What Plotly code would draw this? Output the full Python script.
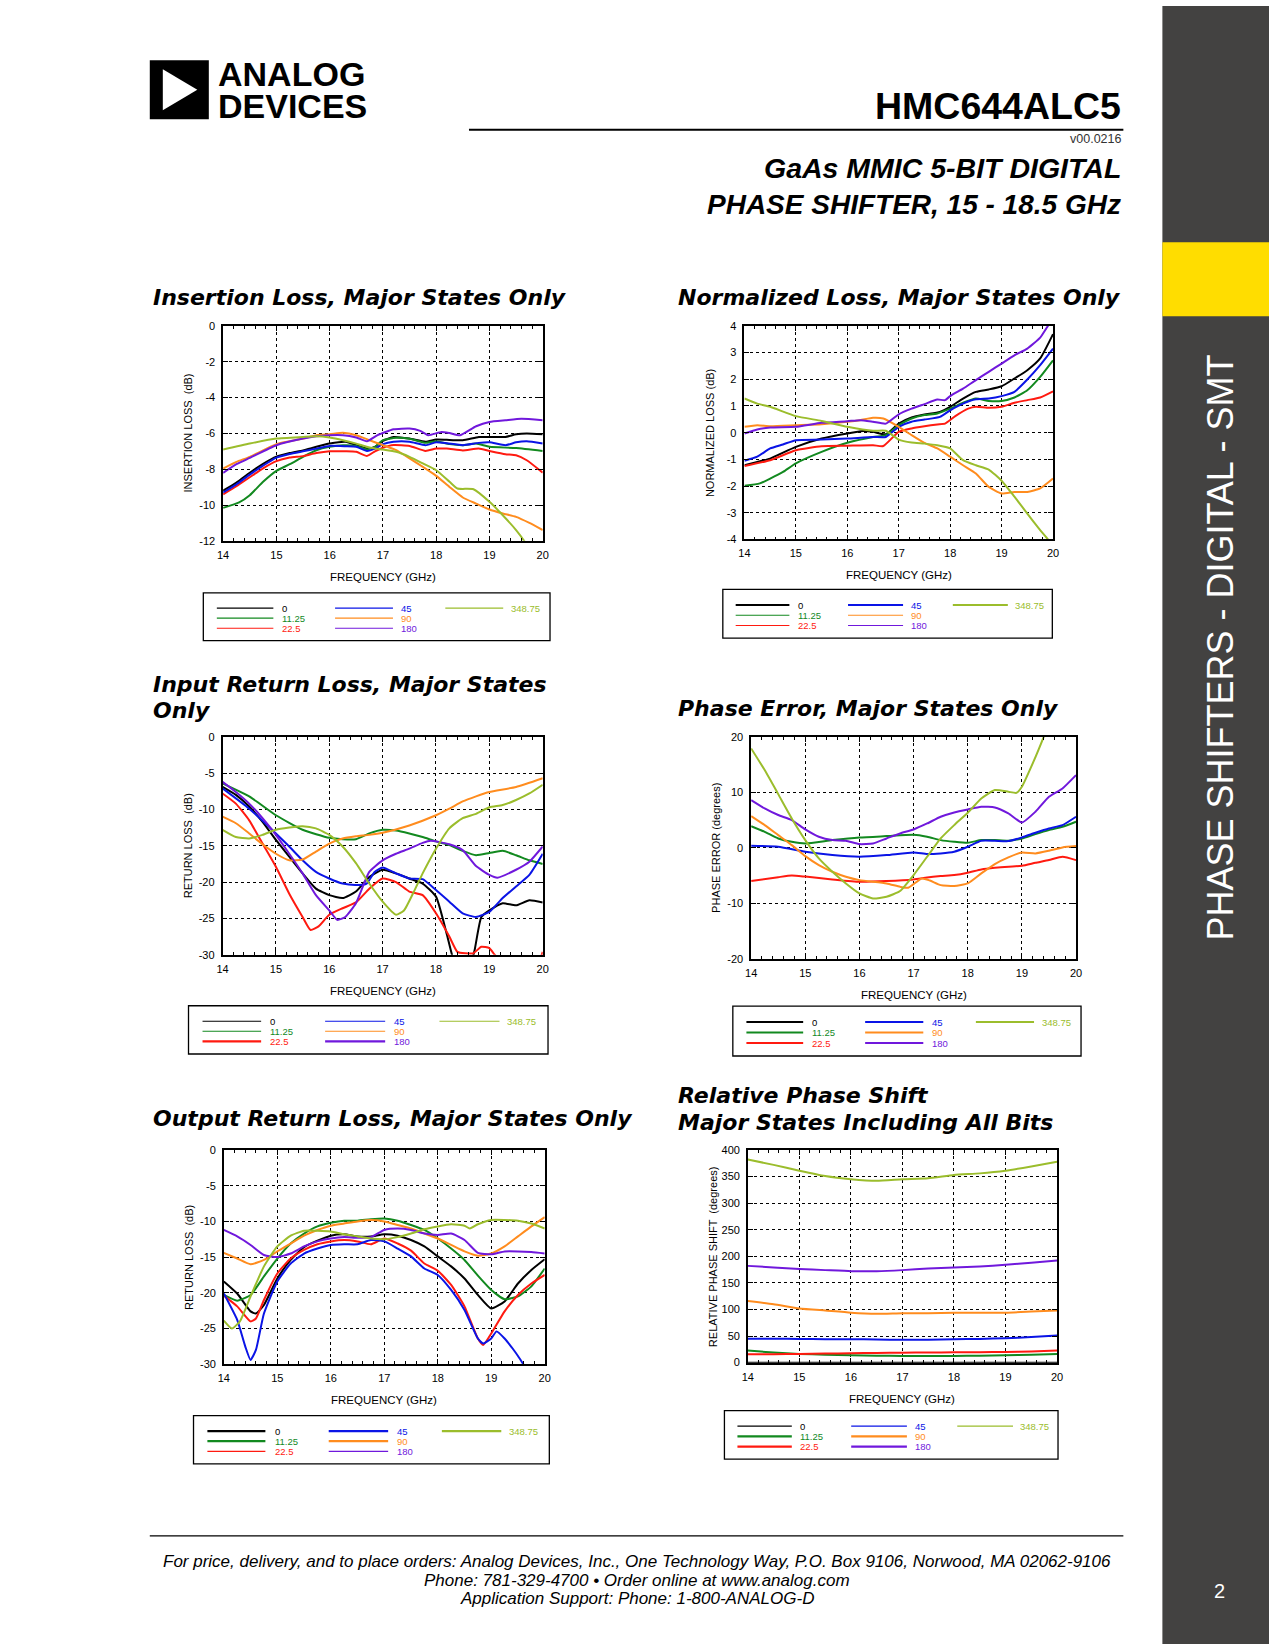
import plotly.graph_objects as go

W, H = 1275, 1650
# the photographed page shows the figure slightly inset (about 6 px) and scaled by about 0.99;
# positions below are given in the reference's pixel frame and mapped through that inset
SX, OX = 0.99, 6.3
SY, OY = 0.993, 5.7
def fx(x): return (x - OX) / SX / W
def fy(y): return 1 - (y - OY) / SY / H

STATES = ["0", "11.25", "22.5", "45", "90", "180", "348.75"]
COLORS = {"0": "#000000", "11.25": "#12891f", "22.5": "#ff1a10", "45": "#0a14e6",
          "90": "#ff8c1e", "180": "#7018dc", "348.75": "#9bbd2c"}

Q = [14 + 0.25 * k for k in range(25)]
H13 = [14 + 0.5 * k for k in range(13)]

# ---------------- Insertion loss (dB) ----------------
IL_X_A = [14, 14.25, 14.5, 14.75, 15, 15.25, 15.5, 15.75, 16, 16.3, 16.5, 16.7, 16.85, 17, 17.2, 17.5, 17.8, 18, 18.2, 18.5, 18.8, 19, 19.3, 19.5, 19.7, 20]
IL_0 = [-9.2, -8.75, -8.2, -7.7, -7.3, -7.1, -6.95, -6.75, -6.57, -6.47, -6.66, -6.85, -6.75, -6.42, -6.2, -6.29, -6.47, -6.34, -6.36, -6.38, -6.2, -6.2, -6.2, -6.05, -6.0, -6.05]
IL_45 = [-9.3, -8.85, -8.3, -7.8, -7.35, -7.15, -7.0, -6.85, -6.7, -6.72, -6.75, -6.98, -6.85, -6.6, -6.47, -6.47, -6.66, -6.5, -6.55, -6.66, -6.53, -6.5, -6.66, -6.5, -6.44, -6.57]
IL_22 = [-9.4, -8.95, -8.45, -7.95, -7.55, -7.35, -7.27, -7.1, -7.0, -7.0, -7.03, -7.26, -7.0, -6.8, -6.65, -6.7, -6.98, -6.85, -6.85, -6.95, -6.85, -6.98, -7.16, -7.22, -7.5, -8.19]
IL_X_11 = [14, 14.3, 14.5, 14.75, 15, 15.25, 15.5, 15.75, 16, 16.25, 16.5, 16.7, 16.85, 17, 17.25, 17.5, 17.8, 18, 18.25, 18.5, 18.75, 19, 19.5, 20]
IL_11 = [-10.16, -9.85, -9.45, -8.7, -8.09, -7.72, -7.31, -6.94, -6.75, -6.66, -6.7, -6.9, -6.75, -6.38, -6.25, -6.3, -6.53, -6.44, -6.6, -6.66, -6.57, -6.75, -6.82, -6.98]
IL_X_180 = [14, 14.25, 14.5, 15, 15.5, 15.75, 16, 16.25, 16.5, 16.7, 16.9, 17.2, 17.5, 17.7, 17.85, 18.1, 18.25, 18.45, 18.75, 19, 19.3, 19.6, 20]
IL_180 = [-8.2, -7.72, -7.37, -6.66, -6.29, -6.16, -6.1, -6.1, -6.23, -6.44, -6.1, -5.77, -5.73, -5.86, -6.1, -5.92, -5.98, -6.1, -5.6, -5.36, -5.27, -5.19, -5.27]
IL_X_90 = [14, 14.25, 14.5, 15, 15.5, 15.75, 16, 16.25, 16.5, 16.75, 17, 17.25, 17.5, 17.75, 18, 18.25, 18.5, 18.75, 19, 19.25, 19.5, 19.75, 20]
IL_90 = [-7.96, -7.59, -7.31, -6.6, -6.29, -6.1, -6.05, -5.97, -6.1, -6.38, -6.66, -6.94, -7.4, -7.87, -8.37, -8.99, -9.58, -9.92, -10.25, -10.47, -10.66, -11.0, -11.4]
IL_X_348 = [14, 14.5, 15, 15.5, 15.75, 16, 16.25, 16.5, 16.75, 17, 17.25, 17.5, 17.75, 18, 18.25, 18.4, 18.7, 19, 19.25, 19.5, 19.65, 19.8]
IL_348 = [-6.9, -6.57, -6.29, -6.2, -6.16, -6.23, -6.38, -6.57, -6.79, -6.9, -7.03, -7.31, -7.68, -8.06, -8.7, -9.08, -9.12, -9.82, -10.57, -11.4, -12.0, -12.8]

# ---------------- Normalized loss (dB) ----------------
NL_X_0 = [14, 14.25, 14.5, 15, 15.5, 16, 16.3, 16.5, 16.75, 17, 17.25, 17.5, 17.8, 18, 18.25, 18.5, 18.75, 19, 19.25, 19.5, 19.75, 20]
NL_0 = [-1.22, -1.1, -0.97, -0.53, -0.22, -0.03, 0.06, 0.03, -0.06, 0.34, 0.57, 0.68, 0.78, 0.97, 1.28, 1.53, 1.62, 1.74, 2.03, 2.34, 2.78, 3.69]
NL_X_45 = [14, 14.25, 14.5, 14.75, 15, 15.5, 16, 16.5, 16.75, 17, 17.25, 17.5, 17.8, 18, 18.25, 18.5, 18.75, 19, 19.25, 19.5, 19.75, 20]
NL_45 = [-1.05, -0.9, -0.59, -0.44, -0.28, -0.26, -0.22, -0.16, -0.16, 0.22, 0.41, 0.49, 0.59, 0.84, 1.09, 1.25, 1.28, 1.37, 1.53, 1.99, 2.53, 3.15]
NL_X_22 = [14, 14.5, 15, 15.5, 16, 16.5, 16.7, 17, 17.25, 17.5, 17.75, 17.9, 18.1, 18.35, 18.5, 18.75, 19, 19.25, 19.5, 19.75, 20]
NL_22 = [-1.25, -1.03, -0.66, -0.51, -0.49, -0.47, -0.5, 0.03, 0.16, 0.24, 0.31, 0.34, 0.62, 0.9, 0.97, 0.93, 0.97, 1.12, 1.22, 1.32, 1.55]
NL_X_11 = [14, 14.3, 14.5, 14.75, 15, 15.5, 16, 16.5, 16.75, 17, 17.25, 17.5, 17.75, 18, 18.25, 18.5, 18.75, 19, 19.25, 19.5, 19.75, 20]
NL_11 = [-1.99, -1.9, -1.72, -1.47, -1.15, -0.72, -0.38, -0.16, -0.09, 0.28, 0.53, 0.66, 0.72, 0.9, 1.12, 1.28, 1.19, 1.19, 1.32, 1.59, 2.09, 2.71]
NL_X_180 = [14, 14.25, 14.5, 15, 15.5, 16, 16.25, 16.5, 16.75, 17, 17.25, 17.5, 17.75, 17.9, 18, 18.25, 18.5, 18.75, 19, 19.25, 19.5, 19.75, 19.9, 20]
NL_180 = [-0.03, 0.12, 0.19, 0.22, 0.37, 0.43, 0.47, 0.41, 0.34, 0.69, 0.9, 1.07, 1.24, 1.22, 1.37, 1.65, 1.97, 2.28, 2.59, 2.9, 3.15, 3.56, 4.0, 4.3]
NL_X_90 = [14, 14.25, 14.5, 15, 15.5, 16, 16.25, 16.5, 16.7, 17, 17.25, 17.5, 17.75, 18, 18.25, 18.5, 18.75, 19, 19.25, 19.5, 19.75, 20]
NL_90 = [0.22, 0.28, 0.24, 0.28, 0.32, 0.41, 0.47, 0.56, 0.53, 0.22, -0.09, -0.38, -0.59, -0.9, -1.22, -1.53, -2.03, -2.28, -2.22, -2.22, -2.09, -1.72]
NL_X_348 = [14, 14.25, 14.5, 15, 15.5, 16, 16.5, 16.75, 17, 17.25, 17.5, 17.75, 18, 18.25, 18.5, 18.75, 19, 19.25, 19.5, 19.75, 19.9, 20]
NL_348 = [1.28, 1.09, 0.97, 0.62, 0.44, 0.22, 0.07, 0.07, -0.26, -0.37, -0.41, -0.47, -0.59, -1.03, -1.22, -1.38, -1.8, -2.4, -3.03, -3.65, -4.0, -4.3]

# ---------------- Input return loss (dB) ----------------
IRL_X_0 = [14, 14.25, 14.5, 14.75, 15, 15.25, 15.5, 15.75, 16, 16.25, 16.5, 16.75, 17, 17.25, 17.5, 17.75, 18, 18.2, 18.3, 18.45, 18.6, 18.72, 18.85, 19, 19.25, 19.5, 19.75, 20]
IRL_0 = [-6.9, -8.0, -9.6, -11.7, -14.2, -16.5, -18.8, -20.9, -21.8, -22.2, -21.3, -19.3, -18.3, -18.8, -19.5, -20.2, -22.0, -27.1, -30.0, -33.0, -32.5, -29.5, -24.8, -23.9, -22.9, -23.2, -22.5, -22.8]
IRL_X_11 = [14, 14.5, 15, 15.5, 16, 16.25, 16.5, 16.75, 17, 17.25, 17.5, 17.75, 18, 18.25, 18.5, 18.75, 19, 19.25, 19.5, 19.75, 20]
IRL_11 = [-6.4, -8.2, -10.8, -12.8, -13.9, -14.1, -14.1, -13.3, -12.8, -12.9, -13.3, -13.8, -14.4, -14.9, -15.7, -16.3, -16.0, -15.7, -16.3, -17.0, -17.5]
IRL_X_22 = [14, 14.25, 14.5, 14.75, 15, 15.25, 15.5, 15.65, 15.8, 16, 16.25, 16.5, 16.75, 17, 17.25, 17.5, 17.75, 18, 18.25, 18.4, 18.55, 18.7, 18.85, 19, 19.1, 19.3, 19.7, 19.95, 20]
IRL_22 = [-7.8, -9.2, -11.5, -14.7, -17.9, -21.6, -24.8, -26.6, -26.1, -24.5, -23.6, -22.8, -20.9, -19.5, -20.0, -21.3, -21.8, -24.3, -27.5, -29.6, -29.8, -29.8, -28.9, -29.1, -30.0, -31.5, -31.5, -30.5, -29.6]
IRL_X_45 = [14, 14.5, 15, 15.25, 15.5, 15.75, 16, 16.25, 16.5, 16.7, 16.85, 17, 17.25, 17.5, 17.75, 18, 18.25, 18.5, 18.75, 19, 19.25, 19.5, 19.75, 20]
IRL_45 = [-7.1, -9.9, -13.3, -15.1, -17.0, -18.6, -19.5, -20.2, -20.4, -20.2, -18.6, -18.0, -18.8, -19.5, -19.6, -21.1, -22.7, -24.3, -24.8, -24.1, -22.2, -20.6, -19.0, -16.1]
IRL_X_90 = [14, 14.25, 14.5, 14.75, 15, 15.25, 15.5, 15.75, 16, 16.25, 16.5, 16.75, 17, 17.5, 18, 18.25, 18.5, 18.75, 19, 19.5, 20]
IRL_90 = [-11.0, -11.9, -13.3, -14.8, -16.1, -17.0, -16.9, -15.8, -14.7, -14.0, -13.7, -13.5, -13.2, -12.2, -10.8, -9.9, -8.9, -8.2, -7.6, -6.9, -5.7]
IRL_X_180 = [14, 14.25, 14.5, 14.75, 15, 15.25, 15.5, 15.75, 16, 16.15, 16.3, 16.5, 16.75, 17, 17.25, 17.5, 17.75, 17.9, 18.25, 18.5, 18.75, 19, 19.15, 19.5, 19.75, 20]
IRL_180 = [-6.2, -7.6, -9.2, -11.2, -13.5, -16.1, -18.8, -21.8, -23.9, -25.2, -24.8, -22.9, -18.6, -17.0, -16.1, -15.4, -14.6, -14.3, -14.8, -15.6, -17.8, -19.0, -19.4, -18.3, -17.2, -15.1]
IRL_X_348 = [14, 14.25, 14.5, 14.75, 15, 15.25, 15.5, 15.75, 16, 16.25, 16.5, 16.75, 17, 17.25, 17.4, 17.6, 17.75, 18, 18.25, 18.5, 18.75, 19, 19.25, 19.5, 19.75, 20]
IRL_348 = [-12.8, -13.8, -14.0, -13.5, -12.8, -12.5, -12.3, -12.6, -13.5, -15.1, -17.4, -20.2, -22.7, -24.5, -23.9, -21.1, -18.8, -15.4, -12.6, -11.2, -10.6, -9.7, -9.4, -8.7, -7.8, -6.6]

# ---------------- Phase error (degrees) ----------------
PE_X_45 = [14, 14.5, 15, 15.5, 16, 16.5, 17, 17.25, 17.5, 17.75, 18, 18.25, 18.5, 18.75, 19, 19.25, 19.5, 19.75, 20]
PE_45 = [0.36, 0.18, -0.72, -1.32, -1.62, -1.32, -0.84, -1.14, -1.02, -0.72, 0.18, 1.26, 1.26, 1.2, 1.86, 2.7, 3.48, 4.08, 5.59]
PE_X_11 = [14, 14.25, 14.5, 14.75, 15, 15.5, 16, 16.5, 17, 17.25, 17.5, 17.75, 18, 18.25, 18.5, 18.75, 19, 19.25, 19.5, 19.75, 20]
PE_11 = [3.9, 2.88, 1.68, 1.08, 0.78, 1.38, 1.86, 2.1, 2.34, 1.98, 1.38, 1.08, 0.9, 1.38, 1.38, 1.26, 1.68, 2.46, 3.18, 3.78, 4.68]
PE_X_22 = [14, 14.5, 14.75, 15, 15.5, 16, 16.5, 17, 17.25, 17.5, 17.75, 18, 18.25, 18.5, 19, 19.25, 19.5, 19.75, 20]
PE_22 = [-6.0, -5.3, -5.0, -5.2, -5.7, -6.13, -6.0, -5.7, -5.35, -5.1, -4.92, -4.5, -3.9, -3.6, -3.24, -2.7, -2.22, -1.62, -2.22]
PE_X_90 = [14, 14.25, 14.5, 14.75, 15, 15.25, 15.5, 15.75, 16, 16.5, 16.75, 16.9, 17.15, 17.3, 17.5, 17.75, 18, 18.25, 18.5, 18.75, 19, 19.25, 19.5, 19.75, 20]
PE_90 = [5.71, 4.08, 2.28, 0.48, -1.5, -3.12, -4.32, -5.23, -5.83, -6.43, -7.03, -7.2, -5.53, -5.9, -6.73, -6.9, -6.43, -4.62, -2.94, -1.74, -0.84, -1.02, -0.54, 0.06, 0.3]
PE_180 = [8.6, 7.1, 5.9, 5.0, 3.3, 1.98, 1.38, 1.26, 0.66, 0.78, 1.68, 2.58, 3.3, 4.38, 5.59, 6.37, 6.91, 7.39, 7.27, 6.19, 4.56, 6.49, 9.19, 10.69, 13.09]
PE_X_348 = [14, 14.25, 14.5, 14.75, 15, 15.25, 15.5, 15.75, 16, 16.25, 16.5, 16.75, 17, 17.25, 17.5, 17.75, 18, 18.25, 18.5, 18.75, 18.9, 19, 19.2, 19.4, 19.6]
PE_348 = [17.9, 14.0, 9.67, 5.29, 1.38, -1.92, -4.32, -6.43, -8.23, -9.13, -8.83, -7.8, -4.92, -1.62, 1.68, 4.08, 6.31, 8.89, 10.4, 10.1, 9.9, 11.0, 15.2, 19.9, 25.0]

# ---------------- Output return loss (dB) ----------------
ORL_X_0 = [14, 14.25, 14.5, 14.6, 14.75, 15, 15.25, 15.5, 15.75, 16, 16.25, 16.5, 16.75, 17, 17.25, 17.5, 17.75, 18, 18.25, 18.5, 18.75, 19, 19.25, 19.5, 19.75, 20]
ORL_0 = [-18.4, -20.1, -22.6, -22.9, -21.7, -18.0, -15.4, -13.6, -12.7, -12.0, -11.8, -12.1, -12.1, -11.8, -12.0, -12.6, -13.5, -14.9, -16.3, -18.0, -20.3, -22.2, -21.2, -18.7, -16.8, -15.3]
ORL_11 = [-20.3, -21.1, -20.3, -17.7, -15.2, -13.1, -11.7, -10.7, -10.2, -9.9, -9.9, -9.7, -9.6, -9.9, -10.5, -11.2, -12.4, -13.8, -15.4, -17.6, -19.6, -20.9, -20.5, -19.1, -16.6]
ORL_X_22 = [14, 14.25, 14.5, 14.6, 14.75, 15, 15.25, 15.5, 15.75, 16, 16.25, 16.5, 16.75, 17, 17.25, 17.5, 17.75, 18, 18.25, 18.5, 18.75, 18.85, 19, 19.25, 19.5, 19.75, 20]
ORL_22 = [-20.4, -21.9, -24.0, -23.6, -21.0, -17.3, -15.2, -14.0, -13.2, -12.8, -12.6, -12.8, -13.2, -12.4, -13.1, -14.1, -15.9, -16.9, -18.9, -21.9, -26.4, -27.3, -25.7, -22.6, -20.3, -18.7, -17.5]
ORL_X_45 = [14, 14.25, 14.4, 14.5, 14.6, 14.75, 15, 15.25, 15.5, 15.75, 16, 16.25, 16.5, 16.75, 17, 17.25, 17.5, 17.75, 18, 18.25, 18.5, 18.75, 18.85, 19, 19.1, 19.25, 19.4, 19.55, 19.6, 19.7]
ORL_45 = [-20.1, -23.8, -27.5, -29.4, -28.0, -22.9, -18.4, -15.9, -14.5, -13.8, -13.3, -13.2, -13.2, -12.6, -12.8, -13.8, -14.9, -16.6, -17.5, -19.6, -22.4, -26.4, -27.1, -26.4, -25.4, -26.4, -27.8, -29.4, -30.0, -31.0]
ORL_90 = [-14.4, -15.2, -16.0, -15.4, -14.2, -13.1, -12.0, -11.2, -10.6, -10.3, -10.0, -9.8, -10.0, -10.5, -11.0, -11.7, -12.4, -13.3, -14.2, -14.8, -14.5, -13.5, -12.1, -10.7, -9.4]
ORL_180 = [-11.2, -12.1, -13.3, -14.7, -15.0, -14.5, -13.5, -12.8, -12.4, -12.2, -12.3, -12.2, -11.2, -11.0, -11.2, -11.7, -11.9, -11.7, -12.6, -14.4, -14.6, -14.2, -14.2, -14.3, -14.5]
ORL_X_348 = [14, 14.15, 14.3, 14.5, 14.75, 15, 15.25, 15.5, 15.75, 16, 16.25, 16.5, 16.75, 17, 17.25, 17.5, 17.75, 18, 18.25, 18.5, 18.6, 18.75, 19, 19.25, 19.5, 19.75, 20]
ORL_348 = [-23.9, -25.0, -24.0, -20.5, -16.3, -13.5, -12.0, -11.3, -11.3, -11.4, -11.8, -12.1, -12.4, -12.5, -12.2, -11.7, -11.1, -10.7, -10.4, -10.6, -11.0, -10.4, -9.8, -9.8, -9.9, -10.3, -11.0]

# ---------------- Relative phase shift (degrees) ----------------
RPS_0 = [0] * 13
RPS_11 = [22.6, 19, 16.3, 15, 13.8, 13, 12.5, 12.5, 12.5, 13, 13.8, 15, 16.3]
RPS_22 = [15.7, 16, 16.3, 17, 17.6, 18.2, 18.8, 19, 19.4, 19.7, 20, 21, 22.6]
RPS_45 = [45, 45, 44.5, 44, 44, 43.5, 43, 43, 44, 44.5, 46, 48, 51]
RPS_90 = [116, 110, 102, 98, 94, 92, 93, 93, 94, 94, 94, 96, 98]
RPS_180 = [182, 179, 176, 174, 172, 172, 174, 177, 179, 181, 184, 188, 192]
RPS_348 = [382, 372, 361, 351, 345, 342, 345, 347, 353, 356, 361, 369, 378]

FONT = "Liberation Sans, Arial, sans-serif"
TITLEF = "DejaVu Sans, Liberation Sans, sans-serif"

charts = [
    dict(box=(223.3, 325.7, 542.7, 540.7), yr=[-12, 0], dt=2, ytitle="INSERTION LOSS  (dB)",
         titles=[("Insertion Loss, Major States Only", 151, 297)],
         leg=(203.5, 592.7, 550, 640.5), thick=set(),
         s={"0": (IL_X_A, IL_0), "11.25": (IL_X_11, IL_11), "22.5": (IL_X_A, IL_22), "45": (IL_X_A, IL_45),
            "90": (IL_X_90, IL_90), "180": (IL_X_180, IL_180), "348.75": (IL_X_348, IL_348)}),
    dict(box=(744.3, 325.7, 1052.7, 539.3), yr=[-4, 4], dt=1, ytitle="NORMALIZED LOSS (dB)",
         titles=[("Normalized Loss, Major States Only", 676, 297)],
         leg=(722.7, 589.3, 1052, 638), thick={"0", "45", "348.75"},
         s={"0": (NL_X_0, NL_0), "11.25": (NL_X_11, NL_11), "22.5": (NL_X_22, NL_22), "45": (NL_X_45, NL_45),
            "90": (NL_X_90, NL_90), "180": (NL_X_180, NL_180), "348.75": (NL_X_348, NL_348)}),
    dict(box=(222.7, 736.7, 542.7, 954.7), yr=[-30, 0], dt=5, ytitle="RETURN LOSS  (dB)",
         titles=[("Input Return Loss, Major States", 151, 684), ("Only", 151, 710)],
         leg=(188.7, 1005.7, 548, 1054), thick={"22.5", "180"},
         s={"0": (IRL_X_0, IRL_0), "11.25": (IRL_X_11, IRL_11), "22.5": (IRL_X_22, IRL_22), "45": (IRL_X_45, IRL_45),
            "90": (IRL_X_90, IRL_90), "180": (IRL_X_180, IRL_180), "348.75": (IRL_X_348, IRL_348)}),
    dict(box=(751, 736.7, 1075.7, 958.7), yr=[-20, 20], dt=10, ytitle="PHASE ERROR (degrees)",
         titles=[("Phase Error, Major States Only", 676, 708)],
         leg=(732.7, 1006, 1080.7, 1056), thick=set(STATES),
         s={"11.25": (PE_X_11, PE_11), "22.5": (PE_X_22, PE_22), "45": (PE_X_45, PE_45),
            "90": (PE_X_90, PE_90), "180": (Q, PE_180), "348.75": (PE_X_348, PE_348)}),
    dict(box=(224, 1150, 544.7, 1364.3), yr=[-30, 0], dt=5, ytitle="RETURN LOSS  (dB)",
         titles=[("Output Return Loss, Major States Only", 151, 1119)],
         leg=(193.7, 1415.7, 549.3, 1464), thick={"0", "11.25", "45", "90", "348.75"},
         s={"0": (ORL_X_0, ORL_0), "11.25": (Q, ORL_11), "22.5": (ORL_X_22, ORL_22), "45": (ORL_X_45, ORL_45),
            "90": (Q, ORL_90), "180": (Q, ORL_180), "348.75": (ORL_X_348, ORL_348)}),
    dict(box=(747.7, 1150, 1056.7, 1362.7), yr=[0, 400], dt=50, ytitle="RELATIVE PHASE SHIFT  (degrees)",
         titles=[("Relative Phase Shift", 676, 1095), ("Major States Including All Bits", 676, 1123)],
         leg=(724.3, 1410.7, 1057.7, 1459.3), thick={"11.25", "22.5", "90", "180"},
         s={"0": (H13, RPS_0), "11.25": (H13, RPS_11), "22.5": (H13, RPS_22), "45": (H13, RPS_45),
            "90": (H13, RPS_90), "180": (H13, RPS_180), "348.75": (H13, RPS_348)}),
]

AX = dict(showline=True, linecolor="black", linewidth=1.5, mirror="allticks", ticks="inside",
          ticklen=5, tickwidth=1, tickcolor="black", showgrid=True, gridcolor="black", gridwidth=1,
          griddash="dot", zeroline=False, fixedrange=True,
          tickfont=dict(family=FONT, size=11, color="black"))

def nice(v):
    return str(int(v)) if float(v).is_integer() else str(v)

fig = go.Figure()
layout = {}
shapes = []
ann = []

def text(t, x, y, size, color="black", family=FONT, xanchor="left", weight="normal", style="normal", angle=0):
    ann.append(dict(text=t, x=fx(x), y=fy(y), xref="paper", yref="paper", showarrow=False,
                    xanchor=xanchor, yanchor="middle", textangle=angle,
                    font=dict(family=family, size=size, color=color, weight=weight, style=style)))

COLS = {"0": (0, 0), "11.25": (0, 1), "22.5": (0, 2), "45": (1, 0), "90": (1, 1), "180": (1, 2), "348.75": (2, 0)}
COLX = [(0.039, 0.202, 0.222), (0.38, 0.547, 0.565), (0.698, 0.865, 0.881)]
ROWY = [0.32, 0.53, 0.74]

for i, ch in enumerate(charts, start=1):
    sx = "" if i == 1 else str(i)
    l, t, r, b = ch["box"]
    y0, y1 = ch["yr"]
    yt = [y0 + k * ch["dt"] for k in range(int(round((y1 - y0) / ch["dt"])) + 1)]
    layout["xaxis" + sx] = dict(domain=[fx(l), fx(r)], range=[14, 20], dtick=1, tick0=14, anchor="y" + sx,
                                ticklabelstandoff=3,
                                minor=dict(dtick=0.2, ticks="inside", ticklen=3, tickcolor="black", showgrid=False),
                                **AX)
    layout["yaxis" + sx] = dict(domain=[fy(b), fy(t)], range=ch["yr"], tickmode="array", tickvals=yt,
                                ticktext=[nice(v) for v in yt], anchor="x" + sx,
                                ticklabelstandoff=4, **AX)
    for name in STATES:
        if name in ch["s"]:
            xs, ys = ch["s"][name]
            fig.add_trace(go.Scatter(x=xs, y=ys, mode="lines", xaxis="x" + sx, yaxis="y" + sx,
                                     line=dict(color=COLORS[name], width=2, shape="spline", smoothing=0.5),
                                     showlegend=False, hoverinfo="skip"))
    text(ch["ytitle"], l - 35, (t + b) / 2, 11, xanchor="center", angle=-90)
    text("FREQUENCY (GHz)", (l + r) / 2, b + 36, 11.5, xanchor="center")
    for tt, x0, yy0 in ch["titles"]:
        text(tt, x0, yy0, 22, family=TITLEF, weight="bold", style="italic")
    ll, lt, lr, lb = ch["leg"]
    lw, lh = lr - ll, lb - lt
    shapes.append(dict(type="rect", xref="paper", yref="paper", x0=fx(ll), x1=fx(lr), y0=fy(lb), y1=fy(lt),
                       line=dict(color="black", width=1.3), fillcolor="rgba(0,0,0,0)"))
    for name in STATES:
        c, rw = COLS[name]
        a, bb, tx = COLX[c]
        yy = lt + ROWY[rw] * lh
        shapes.append(dict(type="line", xref="paper", yref="paper", x0=fx(ll + a * lw), x1=fx(ll + bb * lw),
                           y0=fy(yy), y1=fy(yy),
                           line=dict(color=COLORS[name], width=2.2 if name in ch["thick"] else 1.1)))
        text(name, ll + tx * lw, yy, 9.5, color=COLORS[name])

# ---- page decoration ----
GRAY = "#434241"
shapes.append(dict(type="rect", xref="paper", yref="paper", x0=fx(1162), x1=1, y0=0, y1=1,
                   line=dict(width=0), fillcolor=GRAY, layer="below"))
shapes.append(dict(type="rect", xref="paper", yref="paper", x0=fx(1162), x1=1, y0=fy(316), y1=fy(242),
                   line=dict(width=0), fillcolor="#ffdd00", layer="below"))
shapes.append(dict(type="rect", xref="paper", yref="paper", x0=fx(150), x1=fx(209), y0=fy(119), y1=fy(60),
                   line=dict(width=0), fillcolor="black"))
shapes.append(dict(type="path", xref="paper", yref="paper",
                   path=f"M {fx(163)} {fy(69)} L {fx(197.5)} {fy(89.5)} L {fx(163)} {fy(110)} Z",
                   line=dict(width=0), fillcolor="white"))
shapes.append(dict(type="line", xref="paper", yref="paper", x0=fx(469), x1=fx(1123), y0=fy(129.5), y1=fy(129.5),
                   line=dict(color="black", width=2)))
shapes.append(dict(type="line", xref="paper", yref="paper", x0=fx(150), x1=fx(1123), y0=fy(1536), y1=fy(1536),
                   line=dict(color="black", width=1.2)))

text("ANALOG", 216, 74, 34, weight="bold")
text("DEVICES", 216, 106, 34, weight="bold")
text("HMC644ALC5", 1123, 106, 37.5, weight="bold", xanchor="right")
text("v00.0216", 1123, 139, 12.5, color="#333333", xanchor="right")
text("GaAs MMIC 5-BIT DIGITAL", 1123, 168, 28.5, weight="bold", style="italic", xanchor="right")
text("PHASE SHIFTER, 15 - 18.5 GHz", 1123, 204, 28, weight="bold", style="italic", xanchor="right")
text("PHASE SHIFTERS - DIGITAL - SMT", 1220, 647, 36, color="white", xanchor="center", angle=-90)
text("2", 1219, 1591, 20, color="white", xanchor="center")
FOOT = ["For price, delivery, and to place orders: Analog Devices, Inc., One Technology Way, P.O. Box 9106, Norwood, MA 02062-9106",
        "Phone: 781-329-4700 • Order online at www.analog.com",
        "Application Support: Phone: 1-800-ANALOG-D"]
for k, line in enumerate(FOOT):
    text(line, 637, 1562 + 18.5 * k, 17, style="italic", xanchor="center")

fig.update_layout(width=W, height=H, margin=dict(l=0, r=0, t=0, b=0), autosize=False,
                  paper_bgcolor="white", plot_bgcolor="white", showlegend=False,
                  shapes=shapes, annotations=ann, **layout)

# drop the browser's default page margin (runs right after the plot call, and again when it resolves)
RESET = ("document.body.style.margin='0';document.body.style.padding='0';"
         "document.documentElement.style.margin='0';document.documentElement.style.overflow='hidden';")
fig.write_html("out.html", config={"displayModeBar": False},
               post_script=RESET + "}); " + RESET + " (function(){")
